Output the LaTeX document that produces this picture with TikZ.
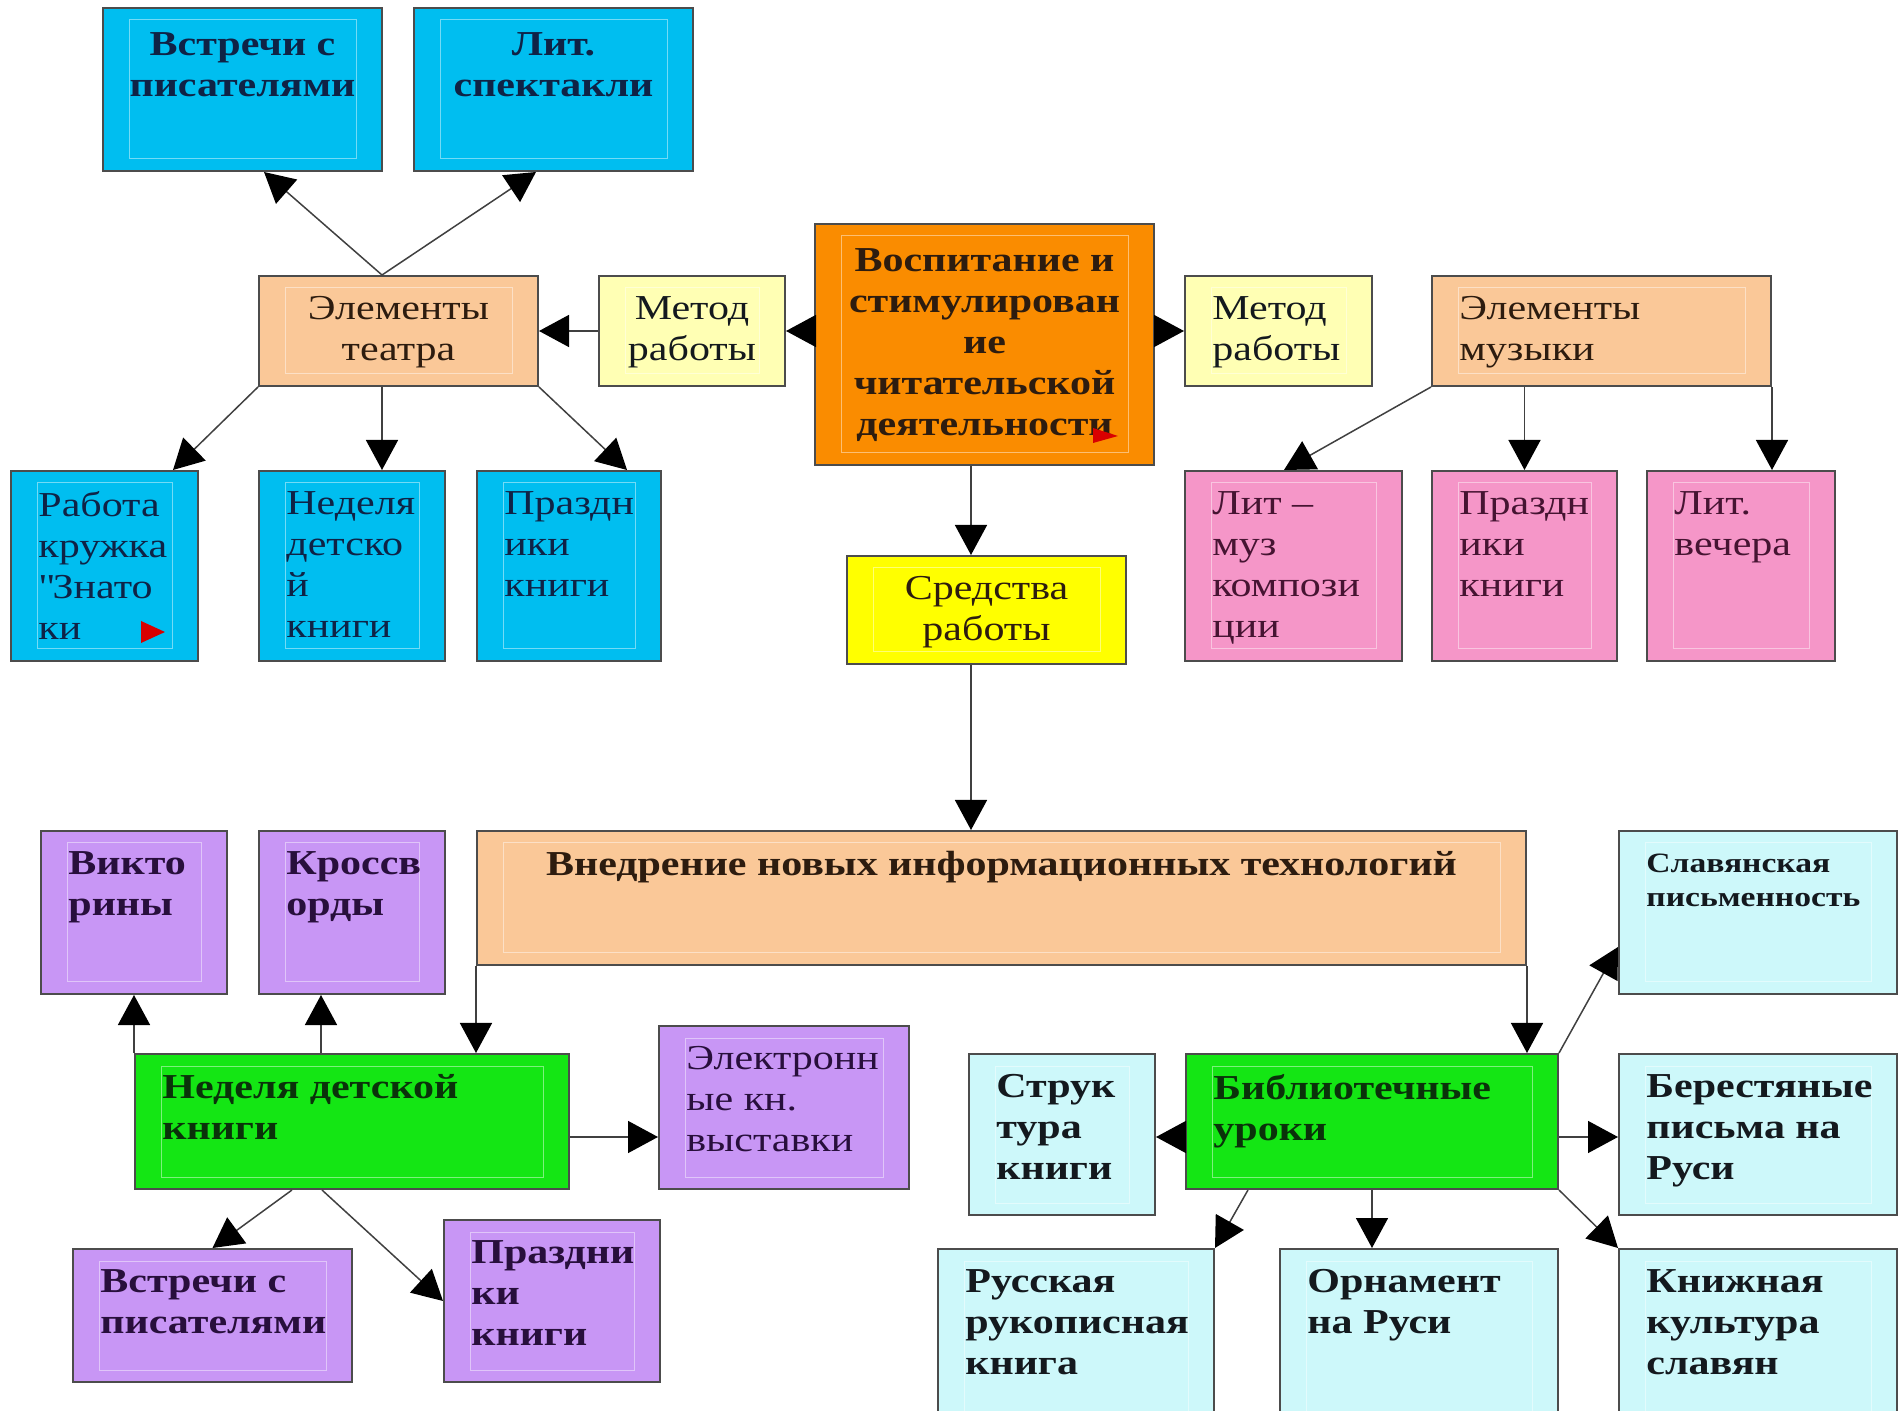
\documentclass[tikz,border=0pt]{standalone}
\usepackage{fontspec}
\setmainfont[FakeStretch=1.2]{Liberation Serif}
\usetikzlibrary{arrows.meta,fit}

\definecolor{skyc}{RGB}{0,190,240}
\definecolor{peachc}{RGB}{250,200,152}
\definecolor{creamc}{RGB}{255,255,180}
\definecolor{orangec}{RGB}{250,140,0}
\definecolor{yellowc}{RGB}{255,255,0}
\definecolor{pinkc}{RGB}{245,150,200}
\definecolor{lilacc}{RGB}{200,150,245}
\definecolor{greenc}{RGB}{20,230,20}
\definecolor{icec}{RGB}{205,248,250}
\definecolor{skyt}{RGB}{15,35,70}
\definecolor{browt}{RGB}{45,28,15}
\definecolor{pinkt}{RGB}{70,20,50}
\definecolor{lilact}{RGB}{40,15,60}
\definecolor{greent}{RGB}{10,50,10}
\definecolor{darkt}{RGB}{20,25,30}

\tikzset{
  box/.style={draw=black!70, line width=1pt, inner sep=0pt,
    path picture={\draw[white, opacity=.45, line width=.5pt]
      ([shift={(13pt,-6pt)}]path picture bounding box.north west) rectangle
      ([shift={(-13pt,6pt)}]path picture bounding box.south east);}},
  cyanbox/.style={box, fill=skyc},
  peachbox/.style={box, fill=peachc},
  creambox/.style={box, fill=creamc},
  orangebox/.style={box, fill=orangec},
  yellowbox/.style={box, fill=yellowc},
  pinkbox/.style={box, fill=pinkc},
  lilacbox/.style={box, fill=lilacc},
  greenbox/.style={box, fill=greenc},
  icebox/.style={box, fill=icec},
  lbl/.style={anchor=north west, align=left, inner sep=0pt, xshift=14pt, yshift=-10.4pt, text=#1},
  ctop/.style={anchor=north, align=center, inner sep=0pt, yshift=-10.4pt, text=#1},
  heavy/.style={font=\fontsize{17.5}{20.5}\selectfont\bfseries},
  arr/.style={draw=black!75, line width=.75pt, -{Triangle[length=15pt,width=16pt,color=black]}}
}

\begin{document}
\begin{tikzpicture}[x=0.5pt, y=-0.5pt, font=\fontsize{17.5}{20.5}\selectfont]
\path[use as bounding box, clip] (0,0) rectangle (1903,1411);

% upper part
\node[cyanbox, fit={(103,8) (382,171)}, label={[ctop=skyt, heavy, yshift=-2pt]north:{Встречи с\\писателями}}] (vstrTop) {};
\node[cyanbox, fit={(414,8) (693,171)}, label={[ctop=skyt, heavy, yshift=-2pt]north:{Лит.\\спектакли}}] (spekt) {};
\node[peachbox, fit={(259,276) (538,386)}, label={[ctop=browt]north:{Элементы\\театра}}] (teatr) {};
\node[creambox, fit={(599,276) (785,386)}, label={[ctop=darkt]north:{Метод\\работы}}] (metodL) {};
\node[orangebox, fit={(815,224) (1154,465)}, label={[ctop=browt, heavy, yshift=-2pt]north:{Воспитание и\\стимулирован\\ие\\читательской\\деятельности}}] (vosp) {};
\node[creambox, fit={(1185,276) (1372,386)}, label={[lbl=darkt]north west:{Метод\\работы}}] (metodR) {};
\node[peachbox, fit={(1432,276) (1771,386)}, label={[lbl=browt]north west:{Элементы\\музыки}}] (muz) {};

\node[cyanbox, fit={(11,471) (198,661)}, label={[lbl=skyt]north west:{Работа\\кружка\\\textquotedbl Знато\\ки}}] (kruzhok) {};
\node[cyanbox, fit={(259,471) (445,661)}, label={[lbl=skyt]north west:{Неделя\\детско\\й\\книги}}] (nedTop) {};
\node[cyanbox, fit={(477,471) (661,661)}, label={[lbl=skyt]north west:{Праздн\\ики\\книги}}] (prazdTop) {};
\node[yellowbox, fit={(847,556) (1126,664)}, label={[ctop=browt]north:{Средства\\работы}}] (sredstva) {};
\node[pinkbox, fit={(1185,471) (1402,661)}, label={[lbl=pinkt]north west:{Лит –\\муз\\компози\\ции}}] (litmuz) {};
\node[pinkbox, fit={(1432,471) (1617,661)}, label={[lbl=pinkt]north west:{Праздн\\ики\\книги}}] (prazdPink) {};
\node[pinkbox, fit={(1647,471) (1835,661)}, label={[lbl=pinkt]north west:{Лит.\\вечера}}] (vechera) {};

% red marks
\fill[red!85!black] (1093,428) -- (1093,443) -- (1118,436) -- cycle;
\fill[red!85!black] (141,621) -- (141,643) -- (165,632) -- cycle;

% lower part
\node[lilacbox, fit={(41,831) (227,994)}, label={[lbl=lilact, heavy]north west:{Викто\\рины}}] (viktor) {};
\node[lilacbox, fit={(259,831) (445,994)}, label={[lbl=lilact, heavy]north west:{Кроссв\\орды}}] (kross) {};
\node[peachbox, fit={(477,831) (1526,965)}, label={[ctop=browt, heavy]north:{Внедрение новых информационных технологий}}] (vnedr) {};
\node[greenbox, fit={(135,1054) (569,1189)}, label={[lbl=greent, heavy]north west:{Неделя детской\\книги}}] (nedGreen) {};
\node[lilacbox, fit={(659,1026) (909,1189)}, label={[lbl=lilact]north west:{Электронн\\ые кн.\\выставки}}] (elektr) {};
\node[lilacbox, fit={(73,1249) (352,1382)}, label={[lbl=lilact, heavy]north west:{Встречи с\\писателями}}] (vstrBot) {};
\node[lilacbox, fit={(444,1220) (660,1382)}, label={[lbl=lilact, heavy]north west:{Праздни\\ки\\книги}}] (prazdBot) {};

\node[icebox, fit={(1619,831) (1897,994)}, label={[lbl=darkt, font=\fontsize{14}{17}\selectfont\bfseries, yshift=-1.5pt]north west:{Славянская\\письменность}}] (slav) {};
\node[greenbox, fit={(1186,1054) (1558,1189)}, label={[lbl=greent, heavy]north west:{Библиотечные\\уроки}}] (uroki) {};
\node[icebox, fit={(969,1054) (1155,1215)}, label={[lbl=darkt, heavy]north west:{Струк\\тура\\книги}}] (struk) {};
\node[icebox, fit={(1619,1054) (1897,1215)}, label={[lbl=darkt, heavy]north west:{Берестяные\\письма на\\Руси}}] (berest) {};
\node[icebox, fit={(938,1249) (1214,1425)}, label={[lbl=darkt, heavy]north west:{Русская\\рукописная\\книга}}] (rukop) {};
\node[icebox, fit={(1280,1249) (1558,1425)}, label={[lbl=darkt, heavy]north west:{Орнамент\\на Руси}}] (ornam) {};
\node[icebox, fit={(1619,1249) (1897,1425)}, label={[lbl=darkt, heavy]north west:{Книжная\\культура\\славян}}] (knizh) {};

% arrows
\draw[arr] ([xshift=-8.25pt]teatr.north) -- ([xshift=10.75pt]vstrTop.south);
\draw[arr] ([xshift=-8.25pt]teatr.north) -- ([xshift=-8.75pt]spekt.south);
\draw[arr] (teatr.south west) -- ([xshift=34.25pt]kruzhok.north);
\draw[arr] ([xshift=-8.25pt]teatr.south) -- ([xshift=-8.25pt]teatr.south |- nedTop.north);
\draw[arr] (teatr.south east) -- ([xshift=29pt]prazdTop.north);
\draw[arr] (metodL) -- (teatr);
\draw[arr] (vosp.west |- metodL) -- (metodL.east);
\draw[arr] (vosp.east |- metodR) -- (metodR.west);
\draw[arr] (muz.south west) -- ([xshift=-4.75pt]litmuz.north);
\draw[arr] (prazdPink.north |- muz.south) -- (prazdPink.north);
\draw[arr] (muz.south east) -- (muz.south east |- vechera.north);
\draw[arr] ([xshift=-6.75pt]vosp.south) -- ([xshift=-6.75pt]vosp.south |- sredstva.north);
\draw[arr] ([xshift=-7.75pt]sredstva.south) -- ([xshift=-7.75pt]sredstva.south |- vnedr.north);
\draw[arr] (vnedr.south west) -- (vnedr.south west |- nedGreen.north);
\draw[arr] (vnedr.south east) -- (vnedr.south east |- uroki.north);
\draw[arr] (nedGreen.north west) -- (nedGreen.north west |- viktor.south);
\draw[arr] ([xshift=-15.5pt]kross.south |- nedGreen.north) -- ([xshift=-15.5pt]kross.south);
\draw[arr] ([yshift=-7.75pt]nedGreen.east) -- ([yshift=-7.75pt]nedGreen.east -| elektr.west);
\draw[arr] ([xshift=-30pt]nedGreen.south) -- (vstrBot.north);
\draw[arr] ([xshift=-15pt]nedGreen.south) -- (prazdBot.west);
\draw[arr] (uroki.north east) -- ([yshift=-17.25pt]slav.west);
\draw[arr] ([yshift=-7.75pt]uroki.west) -- ([yshift=-7.75pt]uroki.west -| struk.east);
\draw[arr] ([yshift=-7.75pt]uroki.east) -- ([yshift=-7.75pt]uroki.east -| berest.west);
\draw[arr] ([xshift=-62pt]uroki.south) -- (rukop.north east);
\draw[arr] (uroki.south) -- (uroki.south |- ornam.north);
\draw[arr] (uroki.south east) -- (knizh.north west);
\end{tikzpicture}
\end{document}
